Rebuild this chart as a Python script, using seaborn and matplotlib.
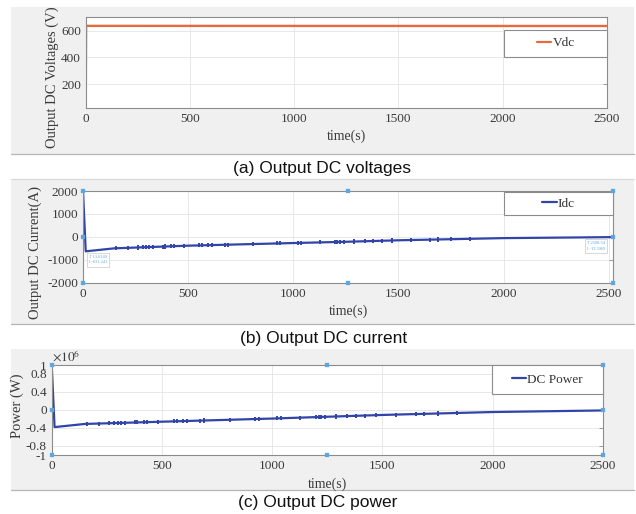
import numpy as np
import pandas as pd
import matplotlib
matplotlib.use("Agg")
import matplotlib.pyplot as plt
from matplotlib.patches import Rectangle
from matplotlib.lines import Line2D
import seaborn as sns

# ---------------- data ----------------
vdc_time = [0, 2, 150, 2500]
vdc_vals = [20, 636, 636, 635]

idc_time = [0, 13, 150, 500, 1000, 1250, 1500, 2000, 2508, 2520]
idc_vals = [2000, -631, -500, -385, -270, -215, -150, -55, -13, -10]

pow_time = [0, 13, 150, 500, 1000, 1500, 2000, 2500]
pow_vals = [1.0, -0.38, -0.31, -0.26, -0.19, -0.11, -0.045, -0.01]   # x 1e6 W

spike_time = [159, 216, 262, 283, 300, 316, 333, 379, 389, 420, 431, 480,
              553, 568, 595, 613, 674, 690, 810, 924, 939, 1022, 1038, 1128,
              1198, 1210, 1220, 1240, 1290, 1340, 1380, 1420, 1470, 1560,
              1650, 1690, 1750, 1840]
spike_idc = [-497, -478, -463, -456, -451, -445, -440, -425, -421, -411, -408, -392,
             -373, -369, -363, -359, -345, -341, -314, -287, -284, -265, -262, -242,
             -226, -224, -222, -217, -205, -192, -181, -171, -158, -139,
             -122, -114, -103, -85]
spike_pow = [-0.309, -0.301, -0.294, -0.291, -0.289, -0.286, -0.284, -0.277, -0.276,
             -0.271, -0.270, -0.263, -0.253, -0.250, -0.247, -0.244, -0.236, -0.233,
             -0.217, -0.201, -0.199, -0.186, -0.184, -0.170, -0.158, -0.156, -0.155,
             -0.152, -0.144, -0.136, -0.129, -0.123, -0.115, -0.102, -0.091, -0.085,
             -0.078, -0.066]

x_ticks = [0, 500, 1000, 1500, 2000, 2500]
a_yticks = [200, 400, 600]
b_yticks = [-2000, -1000, 0, 1000, 2000]
c_yticks = [-1, -0.8, -0.4, 0, 0.4, 0.8, 1]
c_yticklabels = ["-1", "-0.8", "-0.4", "0", "0.4", "0.8", "1"]

b_handles_t = [0, 1260, 2520, 0, 2520, 0, 1260, 2520]
b_handles_v = [2000, 2000, 2000, 0, 0, -2000, -2000, -2000]
c_handles_t = [0, 1250, 2500, 0, 2500, 0, 1250, 2500]
c_handles_v = [1, 1, 1, 0, 0, -1, -1, -1]

captions = ["(a) Output DC voltages", "(b) Output DC current", "(c) Output DC power"]

# ---------------- style ----------------
sns.set_theme(style="white")
plt.rcParams["font.family"] = ["Liberation Serif", "DejaVu Serif"]
plt.rcParams["mathtext.fontset"] = "stix"
plt.rcParams["axes.unicode_minus"] = False

W, H = 636, 514
fig = plt.figure(figsize=(W / 100, H / 100), dpi=100)
fig.patch.set_facecolor("white")

def fx(px):
    return px / W

def fy(py):
    return 1 - py / H

def add_ax(l, r, t, b):
    ax = fig.add_axes([fx(l), fy(b), fx(r) - fx(l), (b - t) / H])
    ax.set_zorder(5)
    return ax

BG = "#f0f0f0"
for (top, bot) in [(7, 154), (179, 324), (349, 490)]:
    fig.patches.append(Rectangle((fx(11), fy(bot)), fx(634) - fx(11), (bot - top) / H,
                                 transform=fig.transFigure, facecolor=BG,
                                 edgecolor="none", zorder=-10))
    fig.lines.append(Line2D([fx(11), fx(634)], [fy(bot), fy(bot)],
                            transform=fig.transFigure, color="#b4b4b4", lw=0.9,
                            zorder=-5))
fig.lines.append(Line2D([fx(11), fx(634)], [fy(179), fy(179)],
                        transform=fig.transFigure, color="#d8d8d8", lw=0.8, zorder=-5))

BLUE = "#3144a8"
ORANGE = "#e8693c"
TIPBLUE = "#5fa6e0"

def style_ax(ax):
    ax.set_facecolor("white")
    ax.grid(True, color="#e4e4e4", lw=0.6)
    for s in ax.spines.values():
        s.set_color("#8c8c8c")
        s.set_linewidth(0.8)
    ax.tick_params(direction="in", length=3, width=0.6, color="#8c8c8c",
                   labelsize=9.5, labelcolor="#3a3a3a", right=True, top=False,
                   pad=3.5)
    ax.set_xticks(x_ticks)
    ax.set_xticklabels([str(v) for v in x_ticks])

def legend_box(ax, l, r, t, b, label, color, ax_box):
    al, ar, at, ab = ax_box
    x0 = (l - al) / (ar - al)
    x1 = (r - al) / (ar - al)
    y0 = (ab - b) / (ab - at)
    y1 = (ab - t) / (ab - at)
    ax.add_patch(Rectangle((x0, y0), x1 - x0, y1 - y0, transform=ax.transAxes,
                           facecolor="white", edgecolor="#8c8c8c", lw=0.8,
                           zorder=5, clip_on=False))
    h = [Line2D([0], [0], color=color, lw=1.6)]
    leg = ax.legend(h, [label], loc="center", bbox_to_anchor=(x0, y0, x1 - x0, y1 - y0),
                    bbox_transform=ax.transAxes, frameon=False, fontsize=9.5,
                    handlelength=1.1, handletextpad=0.1, borderpad=0)
    leg.set_zorder(6)
    for t_ in leg.get_texts():
        t_.set_color("#333333")

# ---------------- panel a ----------------
box_a = (85.7, 607, 17.3, 108.3)
ax1 = add_ax(*box_a)
df_a = pd.DataFrame({"t": vdc_time, "v": vdc_vals})
sns.lineplot(data=df_a, x="t", y="v", ax=ax1, color=ORANGE, lw=1.7, estimator=None)
ax1.set_xlim(0, 2500)
ax1.set_ylim(20, 700)
ax1.set_yticks(a_yticks)
ax1.set_yticklabels([str(v) for v in a_yticks])
style_ax(ax1)
ax1.set_xlabel("time(s)", fontsize=10, color="#3a3a3a")
ax1.set_ylabel("Output DC Voltages (V)", fontsize=10.5, color="#3a3a3a")
ax1.xaxis.set_label_coords(0.5, -0.235)
ax1.yaxis.set_label_coords(-0.052, 0.345)
legend_box(ax1, 504, 607, 30, 56.7, "Vdc", ORANGE, box_a)

# ---------------- panel b ----------------
box_b = (83, 613, 191, 282.7)
ax2 = add_ax(*box_b)
df_b = pd.DataFrame({"t": idc_time, "i": idc_vals})
sns.lineplot(data=df_b, x="t", y="i", ax=ax2, color=BLUE, lw=1.6, estimator=None)
ax2.vlines(spike_time, np.array(spike_idc) - 90, np.array(spike_idc) + 90,
           color=BLUE, lw=1.4)
ax2.set_xlim(0, 2520)
ax2.set_ylim(-2000, 2000)
ax2.set_yticks(b_yticks)
ax2.set_yticklabels([str(v) for v in b_yticks])
style_ax(ax2)
ax2.set_xlabel("time(s)", fontsize=10, color="#3a3a3a")
ax2.set_ylabel("Output DC Current(A)", fontsize=10.5, color="#3a3a3a")
ax2.xaxis.set_label_coords(0.5, -0.24)
ax2.yaxis.set_label_coords(-0.078, 0.325)
sns.scatterplot(x=b_handles_t, y=b_handles_v, ax=ax2, marker="s", s=6,
                color=TIPBLUE, edgecolor=TIPBLUE, clip_on=False, zorder=7)
ax2.text(28, -990, "T 13.0149\nI -631.241", fontsize=3.2, color=TIPBLUE,
         va="center", ha="left", linespacing=1.5,
         bbox=dict(boxstyle="square,pad=0.5", fc="white", ec="#c8c8c8", lw=0.5))
ax2.text(2440, -410, "T 2508.54\nI -13.3969", fontsize=3.2, color=TIPBLUE,
         va="center", ha="center", linespacing=1.5,
         bbox=dict(boxstyle="square,pad=0.5", fc="white", ec="#c8c8c8", lw=0.5))
legend_box(ax2, 504, 613, 192, 215, "Idc", BLUE, box_b)

# ---------------- panel c ----------------
box_c = (51.7, 603, 365, 455)
ax3 = add_ax(*box_c)
df_c = pd.DataFrame({"t": pow_time, "p": pow_vals})
sns.lineplot(data=df_c, x="t", y="p", ax=ax3, color=BLUE, lw=1.6, estimator=None)
ax3.vlines(spike_time, np.array(spike_pow) - 0.045, np.array(spike_pow) + 0.045,
           color=BLUE, lw=1.4)
ax3.set_xlim(0, 2500)
ax3.set_ylim(-1, 1)
ax3.set_yticks(c_yticks)
ax3.set_yticklabels(c_yticklabels)
style_ax(ax3)
ax3.set_xlabel("time(s)", fontsize=10, color="#3a3a3a")
ax3.set_ylabel("Power (W)", fontsize=10.5, color="#3a3a3a")
ax3.xaxis.set_label_coords(0.5, -0.245)
ax3.yaxis.set_label_coords(-0.05, 0.55)
ax3.text(0.0, 1.0, r"$\times 10^{6}$", transform=ax3.transAxes, fontsize=9.5,
         color="#3a3a3a", ha="left", va="bottom")
sns.scatterplot(x=c_handles_t, y=c_handles_v, ax=ax3, marker="s", s=6,
                color=TIPBLUE, edgecolor=TIPBLUE, clip_on=False, zorder=7)
legend_box(ax3, 491.7, 603, 365, 394, "DC Power", BLUE, box_c)

# ---------------- captions ----------------
cap_pos = [(322, 168), (324, 338), (318, 503)]
for txt, (cx, cy) in zip(captions, cap_pos):
    fig.text(fx(cx), fy(cy), txt, ha="center", va="center", fontsize=12.5,
             color="#111111", family=["Liberation Sans Narrow", "Liberation Sans", "DejaVu Sans"])

fig.savefig("out.png", dpi=100, facecolor="white")
